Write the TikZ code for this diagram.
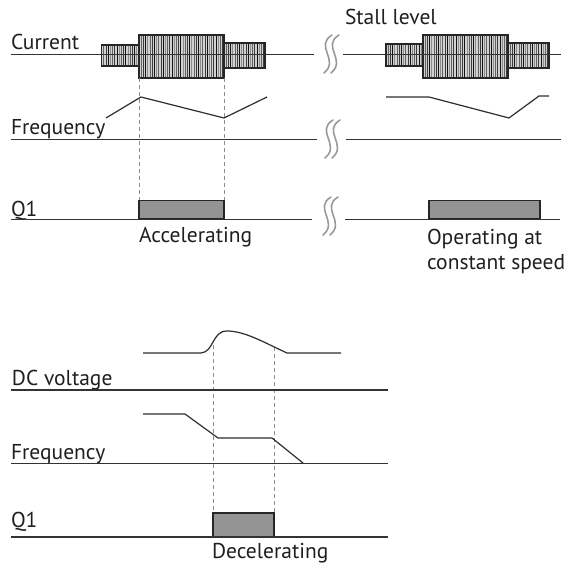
\documentclass[tikz,border=0pt]{standalone}
\usepackage{fontspec}
\setmainfont{PT Sans}
\usepackage{tikz}
\tikzset{
  label text/.style={inner sep=0pt,outer sep=0pt,anchor=base west,text=black!88,font=\fontsize{21.5}{25}\selectfont},
  axis line/.style={draw=black!80,line width=1.8pt},
  signal line/.style={draw=black!82,line width=1.2pt},
  guide line/.style={draw=black!45,line width=0.9pt,dash pattern=on 4pt off 3pt},
  q box/.style={fill=black!42,draw=black!85,line width=1.3pt},
  break mark/.style={draw=black!40,line width=1.6pt,line cap=round}
}
\newcommand{\hatchblock}[4]{%
  \path[fill=black!18] (#1,#2) rectangle (#3,#4);
  \pgfmathsetmacro{\nbars}{int((#3-#1)/2.2)}
  \foreach \i in {0,...,\nbars}{
    \pgfmathsetmacro{\shade}{int(45+16*mod(\i*5,4))}
    \draw[draw=black!\shade,line width=0.8pt] ({#1+\i*2.2},#2) -- ({#1+\i*2.2},#4);
  }
  \draw[draw=black!85,line width=1.1pt] (#1,#2) rectangle (#3,#4);
}
\newcommand{\breakmark}[2]{%
  \draw[break mark] (#1+3,#2-19) .. controls (#1-15,#2-8) and (#1+11,#2+6) .. (#1-5,#2+19);
  \draw[break mark] (#1+10,#2-19) .. controls (#1-8,#2-8) and (#1+18,#2+6) .. (#1+2,#2+19);
}
\begin{document}
\begin{tikzpicture}[x=1pt,y=-1pt]
\path[use as bounding box] (0,0) rectangle (571,564);
\path[fill=white,draw=none] (0,0) rectangle (571,564);
\hatchblock{101.5}{45}{139}{66}
\hatchblock{139}{35}{224}{78}
\hatchblock{224}{43}{265}{68}
\hatchblock{386}{44}{423}{66}
\hatchblock{423}{35}{508}{78}
\hatchblock{508}{43}{549}{68}
\coordinate (accStart) at (139,78);
\coordinate (accEnd) at (224,78);
\coordinate (decStart) at (213,345);
\coordinate (decEnd) at (274,347);
\node[label text] (current) at (11,49.5) {Current};
\node[label text] (freqTop) at (11,134.5) {Frequency};
\node[label text] (qTop) at (11,216.5) {Q1};
\node[label text] (accel) at (139,243) {Accelerating};
\node[label text] (stall) at (345,25) {Stall level};
\node[label text] (operA) at (427,245) {Operating at};
\node[label text] (operB) at (427,269.5) {constant speed};
\node[label text] (dcv) at (12,386) {DC voltage};
\node[label text] (freqBot) at (11,459.5) {Frequency};
\node[label text] (qBot) at (11,527) {Q1};
\node[label text] (decel) at (212,558) {Decelerating};
\path[q box] (139,200.5) rectangle (224,219) coordinate (accBox);
\path[q box] (429,200.5) rectangle (540,219) coordinate (operBox);
\path[q box] (213,513) rectangle (274,536.5) coordinate (decBox);
\draw[guide line] (accStart) -- (accStart |- 0,200.5);
\draw[guide line] (accEnd) -- (accEnd |- 0,200.5);
\draw[guide line] (decStart) -- (decStart |- 0,513);
\draw[guide line] (decEnd) -- (decEnd |- 0,513);
\draw[axis line] (11,54.5) -- (314,54.5);
\draw[axis line] (343,54.5) -- (561,54.5);
\draw[axis line] (11,139.5) -- (317,139.5);
\draw[axis line] (346,139.5) -- (561,139.5);
\draw[axis line] (11,219.5) -- (312,219.5);
\draw[axis line] (345,219.5) -- (560,219.5);
\draw[axis line] (11,390) -- (388,390);
\draw[axis line] (11,463.5) -- (388,463.5);
\draw[axis line] (11,537) -- (388,537);
\breakmark{329}{54}
\breakmark{330}{139}
\breakmark{328}{216}
\draw[signal line] (106,118) -- (141,97) -- (224,118) -- (267,97);
\draw[signal line] (386,97) -- (429,97) -- (509,118) -- (539,96) -- (549,96);
\draw[signal line] (143,353) -- (201,353) .. controls (214,352) and (212,331) .. (227,331) .. controls (245,331) and (265,343) .. (287,353) -- (341,353);
\draw[signal line] (143,414) -- (185,414) -- (218,438) -- (272,438) -- (303,463);
\end{tikzpicture}
\end{document}
